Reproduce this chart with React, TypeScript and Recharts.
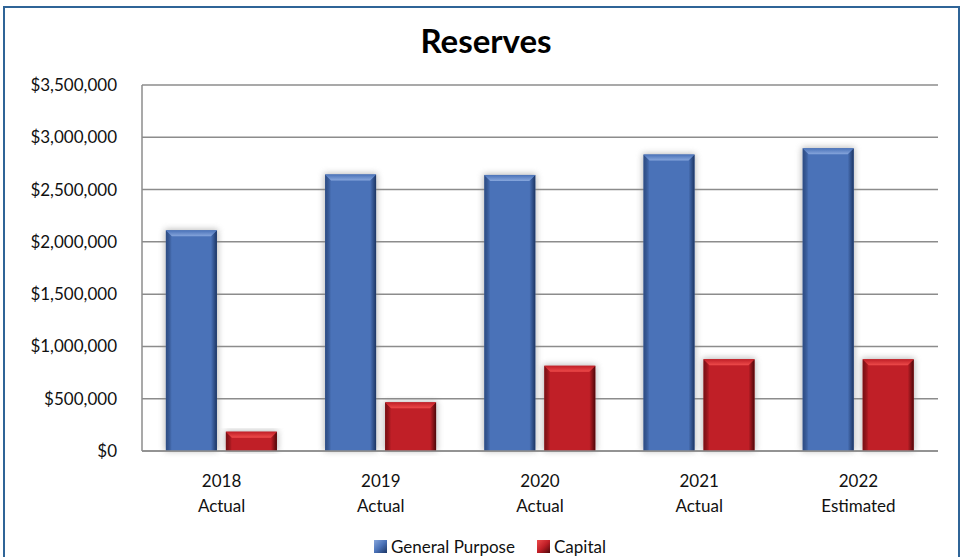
import { Bar, BarChart, CartesianGrid, Legend, XAxis, YAxis } from 'recharts'

const years = ['2018', '2019', '2020', '2021', '2022']
const stages = ['Actual', 'Actual', 'Actual', 'Actual', 'Estimated']
const generalPurpose = [2110000, 2645000, 2640000, 2835000, 2895000]
const capitalReserve = [185000, 465000, 815000, 878000, 877000]
const yTicks = [0, 500000, 1000000, 1500000, 2000000, 2500000, 3000000, 3500000]

const FONT = 'Lato, "Open Sans", sans-serif'
const BLUE = { main: '#4A72B8', light: '#87A6DC', dark: '#1C3563' }
const RED = { main: '#C01F27', light: '#EE4A4A', dark: '#4E0709' }

const data = years.map((year, i) => ({
  year,
  stage: stages[i],
  general: generalPurpose[i],
  capital: capitalReserve[i],
}))

const money = (v: number) => '$' + v.toLocaleString('en-US')

function makeBevel(tone: { main: string; light: string; dark: string }, id: string) {
  return (props: any) => {
    const { x, y, width: w, height: h } = props
    if (!h || h <= 0) return <g />
    const b = Math.min(6, h / 2)
    return (
      <g>
        <rect x={x - 1} y={y - 1} width={w + 2} height={h + 1} fill="#8a8a8a" opacity={0.6} filter="url(#barGlow)" />
        <rect x={x} y={y} width={w} height={h} fill={tone.main} />
        <polygon
          points={`${x},${y} ${x + b},${y + b} ${x + b},${y + h} ${x},${y + h}`}
          fill={`url(#${id}-left)`}
        />
        <polygon
          points={`${x + w},${y} ${x + w},${y + h} ${x + w - b},${y + h} ${x + w - b},${y + b}`}
          fill={`url(#${id}-right)`}
        />
        <polygon
          points={`${x},${y} ${x + w},${y} ${x + w - b},${y + b} ${x + b},${y + b}`}
          fill={`url(#${id}-top)`}
        />
      </g>
    )
  }
}

function GradientDefs() {
  const tones: [string, typeof BLUE][] = [
    ['blue', BLUE],
    ['red', RED],
  ]
  return (
    <svg width={0} height={0} style={{ position: 'absolute', left: 0, top: 0 }}>
      <defs>
        <filter id="barGlow" x="-30%" y="-10%" width="160%" height="120%">
          <feGaussianBlur stdDeviation="3" />
        </filter>
        {tones.map(([id, t]) => (
          <g key={id}>
            <linearGradient id={`${id}-right`} x1="0" y1="0" x2="1" y2="0">
              <stop offset="0%" stopColor={t.main} />
              <stop offset="100%" stopColor={t.dark} />
            </linearGradient>
            <linearGradient id={`${id}-left`} x1="0" y1="0" x2="1" y2="0">
              <stop offset="0%" stopColor={t.dark} stopOpacity={0.6} />
              <stop offset="100%" stopColor={t.main} />
            </linearGradient>
            <linearGradient id={`${id}-top`} x1="0" y1="0" x2="0" y2="1">
              <stop offset="0%" stopColor={t.main} />
              <stop offset="100%" stopColor={t.light} />
            </linearGradient>
            <linearGradient id={`${id}-icon`} x1="0" y1="0" x2="1" y2="1">
              <stop offset="0%" stopColor={t.light} />
              <stop offset="50%" stopColor={t.main} />
              <stop offset="100%" stopColor={t.dark} />
            </linearGradient>
          </g>
        ))}
      </defs>
    </svg>
  )
}

function YearTick({ x, y, payload }: any) {
  const i = years.indexOf(payload.value)
  return (
    <text x={x} y={y} textAnchor="middle" fontSize={17} fill="#111" fontFamily={FONT}>
      <tspan x={x} dy={34}>{payload.value}</tspan>
      <tspan x={x} dy={25}>{stages[i]}</tspan>
    </text>
  )
}

function LegendBox() {
  const items = [
    { label: 'General Purpose', id: 'blue' },
    { label: 'Capital', id: 'red' },
  ]
  return (
    <div style={{ display: 'flex', justifyContent: 'center', paddingLeft: 14, fontSize: 17, fontFamily: FONT, color: '#111', lineHeight: '20px' }}>
      {items.map((item, i) => (
        <span key={item.id} style={{ display: 'flex', alignItems: 'center', marginLeft: i > 0 ? 22 : 0 }}>
          <svg width={14} height={14} style={{ marginRight: 3 }}>
            <rect x={0} y={0} width={13} height={13} fill={`url(#${item.id}-icon)`} />
          </svg>
          {item.label}
        </span>
      ))}
    </div>
  )
}

export default function App() {
  return (
    <div style={{ position: 'fixed', left: 0, top: 0, width: 966, height: 557, overflow: 'hidden', background: '#fff', fontFamily: FONT }}>
      <GradientDefs />
      <div
        style={{
          position: 'absolute',
          left: 0,
          width: 966,
          top: 20,
          textAlign: 'center',
          fontSize: 33,
          fontWeight: 700,
          color: '#000',
          paddingLeft: 6,
          boxSizing: 'border-box',
        }}
      >
        Reserves
      </div>
      <div style={{ position: 'absolute', left: 0, top: 0 }}>
        <BarChart
          width={966}
          height={557}
          data={data}
          margin={{ top: 85, right: 28, bottom: 46, left: 0 }}
          barCategoryGap="15%"
          barGap={9}
        >
          <CartesianGrid vertical={false} stroke="#8C8C8C" strokeWidth={1.5} />
          <XAxis
            dataKey="year"
            tick={<YearTick />}
            tickLine={false}
            tickSize={0}
            height={40}
            interval={0}
            axisLine={{ stroke: '#8C8C8C', strokeWidth: 1.5 }}
          />
          <YAxis
            domain={[0, 3500000]}
            ticks={yTicks}
            tickFormatter={money}
            width={142}
            tickLine={false}
            tickSize={0}
            tickMargin={25}
            tick={{ fontSize: 17, fill: '#111', fontFamily: FONT }}
            axisLine={{ stroke: '#8C8C8C', strokeWidth: 1.5 }}
          />
          <Legend
            verticalAlign="bottom"
            content={<LegendBox />}
            wrapperStyle={{ left: 0, width: 966, top: 537, bottom: 'auto', height: 20 }}
          />
          <Bar dataKey="general" name="General Purpose" fill={BLUE.main} shape={makeBevel(BLUE, 'blue')} isAnimationActive={false} />
          <Bar dataKey="capital" name="Capital" fill={RED.main} shape={makeBevel(RED, 'red')} isAnimationActive={false} />
        </BarChart>
      </div>
      <div
        style={{
          position: 'absolute',
          left: 3,
          top: 6,
          width: 957,
          height: 580,
          border: '2px solid #2F6497',
          boxSizing: 'border-box',
          pointerEvents: 'none',
        }}
      />
    </div>
  )
}
